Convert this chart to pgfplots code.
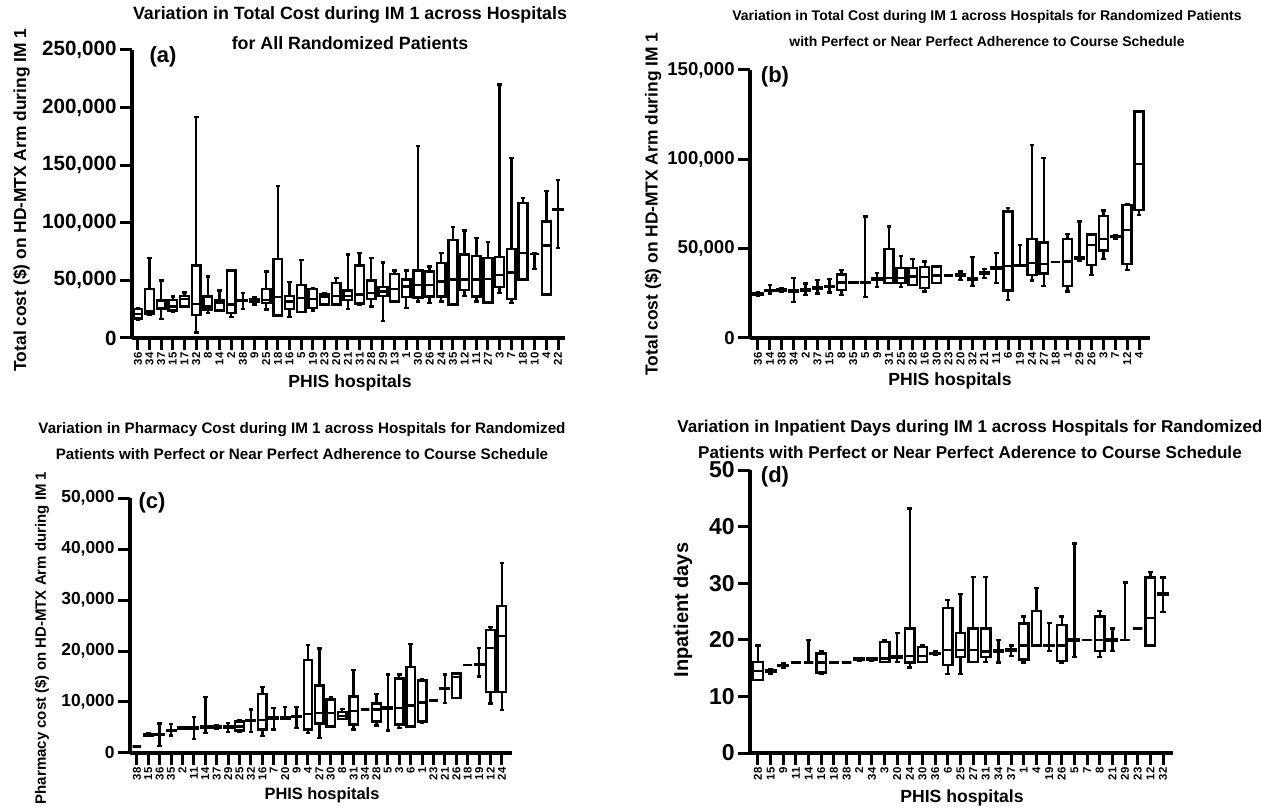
\documentclass[border=0pt]{standalone}
\usepackage{fontspec}
\setmainfont{Liberation Sans}
\usepackage{pgfplots}
\pgfplotsset{compat=1.18}
\usepackage{pgfplotstable}
\usepgfplotslibrary{statistics}
\newcommand\fs[1]{\bfseries\fontsize{#1}{#1}\selectfont}

\pgfplotstableread{
lw lq med uq uw
16000 17000 21000 25000 26000
20000 21000 23000 42500 69400
16500 25100 26000 32700 50000
23000 24000 27500 33200 36100
27000 27500 34000 36700 39600
4900 20200 29500 63000 192000
21700 24600 27500 36100 53500
24000 24000 30300 32400 41300
18200 21700 28900 58700 59200
25100 32200 32700 33200 39000
28900 31500 32700 33800 35500
24600 30300 33200 42500 57800
19400 19400 35500 68500 132000
18200 25100 31800 36700 48600
22300 22300 34700 46200 67900
24000 26000 33800 42500 43300
28900 28900 35500 37600 39000
28900 28900 36700 47700 52000
25100 33200 36700 41300 72300
29000 29800 37600 63000 73700
27500 33800 39000 50000 69400
14500 36700 40500 44200 65600
31800 31800 42500 55500 58700
26000 35500 44800 50600 58700
31800 35300 46200 58700 166700
30300 36100 46200 57800 62100
31800 36100 49100 65000 73700
28900 28900 50600 85300 96200
36700 41900 50600 72300 93300
31800 36100 50600 71400 86700
30900 30900 51200 69400 83200
39000 44200 54900 70200 220200
30300 33800 56900 77500 156000
50600 50600 73700 117000 121400
59800 73000 73000 73000 73500
37600 37600 80300 101200 127700
78000 111500 111800 112000 137300
}\dA

\pgfplotstableread{
lw lq med uq uw
23500 24000 24500 25000 25500
25000 26300 26700 27000 29500
26000 26400 26800 27200 27600
20000 26000 26400 26800 33500
24000 26500 26800 27200 30500
25000 27500 27800 28200 32500
25500 28400 28800 29200 33000
24200 27000 31000 35500 38000
31000 31000 31100 31200 31200
22900 30800 31100 31400 68000
28500 32700 33000 33400 36300
30700 30700 33500 49700 62400
28500 30700 33500 39100 46000
29800 29800 34500 39100 44300
26100 27900 34100 39700 42800
30700 30700 35000 40000 40400
35000 35000 35000 35000 35000
32600 35000 35400 35800 37300
29200 32700 33000 33300 45300
33500 36000 36300 36600 38600
30700 38800 39100 39400 47500
21100 26600 40400 70800 72700
40400 40400 40400 40800 52200
32200 35200 41900 55300 108000
29200 36000 41500 53500 100600
42500 42500 42500 42500 42500
26100 29200 42800 55300 58300
43400 44400 44700 45000 65200
35400 41000 52200 57900 58300
44200 49000 55300 68400 71400
55300 56400 56800 57200 57800
38200 41500 60500 74500 75100
68900 71700 97400 126700 127100
}\dB

\pgfplotstableread{
lw lq med uq uw
1300 1300 1300 1300 1300
3300 3400 3500 3600 3800
1400 3500 3600 3700 5800
3400 4300 4400 4500 5700
4700 4800 4900 5000 5100
2700 4800 4900 5000 7100
3900 5000 5100 5200 11000
4800 4950 5100 5250 5400
4100 5000 5100 5200 5900
4200 4400 5200 6200 6400
4100 6300 6400 6500 8500
3300 4600 6500 11600 12900
4600 6800 6900 7000 8800
6700 6800 6900 7000 9000
4900 7000 7100 7200 9000
3900 4600 7600 18200 21200
2900 5800 7800 13200 20500
5200 5200 7800 10500 10900
6700 6700 7200 8000 8600
4600 5600 8200 11100 16300
8500 8500 8500 8500 8500
5400 6200 8500 9700 11600
4400 8700 8800 8900 15400
4900 5600 8800 14600 15400
5200 5200 9300 16900 21400
6000 6200 9900 14200 14500
10300 10300 10300 10300 10300
9800 12600 12700 12800 15400
10800 10800 14900 15600 15600
17300 17300 17300 17300 17300
15000 17200 17300 17400 20600
9700 12000 20600 24100 24700
8400 12000 23000 28800 37300
}\dC

\pgfplotstableread{
lw lq med uq uw
12.9 12.9 14.5 16.1 19.0
14.0 14.3 14.4 14.6 14.8
15.1 15.4 15.5 15.6 15.8
16.0 16.0 16.0 16.0 16.0
16.0 16.0 16.0 16.0 20.0
14.0 14.2 16.0 17.6 18.0
16.0 16.0 16.0 16.0 16.0
16.0 16.0 16.0 16.0 16.0
16.3 16.5 16.6 16.7 16.8
16.3 16.5 16.6 16.7 16.8
16.1 16.1 16.7 19.6 19.9
16.1 16.9 17.0 17.1 21.2
15.1 16.0 17.1 22.0 43.2
16.1 16.1 17.1 18.7 19.0
17.3 17.5 17.6 17.7 17.9
14.0 15.6 18.2 25.6 27.0
14.0 17.0 18.2 21.2 28.1
16.1 16.1 18.2 22.0 31.1
16.1 17.0 17.9 22.0 31.1
16.0 17.9 18.0 18.1 20.0
17.1 18.1 18.2 18.3 19.0
16.0 16.5 19.0 22.9 24.1
19.0 19.0 19.0 25.1 29.2
18.0 18.9 19.0 19.1 23.0
16.0 16.3 19.0 22.6 24.1
17.0 19.9 20.0 20.1 37.0
20.0 20.0 20.0 20.0 20.0
17.0 18.0 20.0 24.1 25.1
18.0 19.9 20.0 20.1 22.0
20.0 20.0 20.0 20.0 30.1
22.0 22.0 22.0 22.0 22.0
18.9 19.0 23.9 31.0 32.0
24.9 27.9 28.1 28.3 31.0
}\dD

\newcommand\boxrow[2]{%
  \pgfplotstablegetelem{#2}{lw}\of#1\let\vlw\pgfplotsretval
  \pgfplotstablegetelem{#2}{lq}\of#1\let\vlq\pgfplotsretval
  \pgfplotstablegetelem{#2}{med}\of#1\let\vmed\pgfplotsretval
  \pgfplotstablegetelem{#2}{uq}\of#1\let\vuq\pgfplotsretval
  \pgfplotstablegetelem{#2}{uw}\of#1\let\vuw\pgfplotsretval
  \edef\tempplot{\noexpand\addplot[bx, boxplot prepared={draw position=#2,
    lower whisker=\vlw, lower quartile=\vlq, median=\vmed,
    upper quartile=\vuq, upper whisker=\vuw}] coordinates {};}%
  \tempplot
}

\pgfplotsset{
  panel/.style={
    scale only axis, anchor=south west, clip=false,
    axis x line*=bottom, axis y line*=left,
    axis line style={line width=1.9pt, black},
    tick style={line width=1.5pt, black},
    major tick length=6pt, tick align=outside,
    minor tick num=0, ymin=0,
    scaled y ticks=false,
    /pgf/number format/fixed,
    /pgf/number format/precision=0,
    /pgf/number format/1000 sep={,},
    /pgf/number format/assume math mode=true,
    xticklabel style={rotate=90, anchor=east, font=\fs{5.7}, inner sep=1pt},
    yticklabel style={inner sep=1.5pt},
    boxplot/draw direction=y,
    boxplot/box extend=0.75,
    boxplot/whisker extend=0.4,
  },
  bx/.style={black, line width=1.2pt, solid, mark=none},
}

\begin{document}
\begin{tikzpicture}
\useasboundingbox (0,0) rectangle (630.5pt,403.5pt);

% (a)
\begin{axis}[panel, at={(66pt,234.5pt)}, width=216.5pt, height=144pt,
  xmin=-0.5, xmax=36.6, ymax=250000,
  ytick={0,50000,100000,150000,200000,250000},
  yticklabel style={font=\fs{10.3}},
  xtick={0,...,36},
  xticklabels={36,34,37,15,17,32,8,14,2,38,9,25,18,16,5,19,23,20,21,31,28,29,13,1,30,26,24,35,12,11,27,3,7,18,10,4,22}]
\pgfplotsinvokeforeach{0,...,36}{\boxrow{\dA}{#1}}
\end{axis}

% (b)
\begin{axis}[panel, at={(375pt,234.5pt)}, width=200pt, height=134pt,
  xmin=-0.67, xmax=32.92, ymax=150000,
  ytick={0,50000,100000,150000},
  yticklabel style={font=\fs{9.3}},
  xtick={0,...,32},
  xticklabels={36,14,38,34,2,37,15,8,35,5,9,31,25,28,16,30,23,20,32,21,11,6,19,24,27,18,1,29,26,3,7,12,4}]
\pgfplotsinvokeforeach{0,...,32}{\boxrow{\dB}{#1}}
\end{axis}

% (c)
\begin{axis}[panel, at={(65pt,27pt)}, width=191pt, height=127.5pt,
  xmin=-0.6, xmax=32.88, ymax=50000,
  ytick={0,10000,20000,30000,40000,50000},
  yticklabel style={font=\fs{8.7}},
  xtick={0,...,32},
  xticklabels={38,15,36,35,2,11,14,37,29,25,32,16,7,20,9,4,27,30,8,31,34,28,5,3,6,1,23,21,26,18,19,12,24}]
\pgfplotsinvokeforeach{0,...,32}{\boxrow{\dC}{#1}}
\end{axis}

% (d)
\begin{axis}[panel, at={(375pt,27pt)}, width=211.5pt, height=141.5pt,
  xmin=-0.63, xmax=32.79, ymax=50,
  ytick={0,10,20,30,40,50},
  yticklabel style={font=\fs{11.5}},
  xtick={0,...,32},
  xticklabels={28,15,9,11,14,16,18,38,2,34,3,20,24,30,36,6,25,27,31,34,37,1,4,19,26,5,7,8,21,29,23,12,32}]
\pgfplotsinvokeforeach{0,...,32}{\boxrow{\dD}{#1}}
\end{axis}

% titles
\node[font=\fs{8.9}] at (175pt,396pt) {Variation in Total Cost during IM 1 across Hospitals};
\node[font=\fs{8.9}] at (175pt,382pt) {for All Randomized Patients};
\node[font=\fs{7}] at (493.5pt,395pt) {Variation in Total Cost during IM 1 across Hospitals for Randomized Patients};
\node[font=\fs{7}] at (493.5pt,382.5pt) {with Perfect or Near Perfect Adherence to Course Schedule};
\node[font=\fs{7.6}] at (151pt,188.5pt) {Variation in Pharmacy Cost during IM 1 across Hospitals for Randomized};
\node[font=\fs{7.6}] at (151pt,176.5pt) {Patients with Perfect or Near Perfect Adherence to Course Schedule};
\node[font=\fs{8.55}] at (485pt,189.5pt) {Variation in Inpatient Days during IM 1 across Hospitals for Randomized};
\node[font=\fs{8.55}] at (485pt,177.5pt) {Patients with Perfect or Near Perfect Aderence to Course Schedule};

% panel letters
\node[font=\fs{11}] at (81.5pt,375pt) {(a)};
\node[font=\fs{11}] at (387.5pt,365pt) {(b)};
\node[font=\fs{11}] at (76pt,152pt) {(c)};
\node[font=\fs{11}] at (387.5pt,165pt) {(d)};

% y labels
\node[font=\fs{8.7}, rotate=90] at (10.75pt,303.5pt) {Total cost (\$) on HD-MTX Arm during IM 1};
\node[font=\fs{8.7}, rotate=90] at (326.5pt,301.5pt) {Total cost (\$) on HD-MTX Arm during IM 1};
\node[font=\fs{7.5}, rotate=90] at (21pt,84.5pt) {Pharmacy cost (\$) on HD-MTX Arm during IM 1};
\node[font=\fs{10}, rotate=90] at (341.5pt,98.5pt) {Inpatient days};

% x labels
\node[font=\fs{8.8}] at (175pt,212pt) {PHIS hospitals};
\node[font=\fs{8.8}] at (475pt,213pt) {PHIS hospitals};
\node[font=\fs{8.2}] at (161pt,6pt) {PHIS hospitals};
\node[font=\fs{8.8}] at (481pt,4.5pt) {PHIS hospitals};
\end{tikzpicture}
\end{document}
